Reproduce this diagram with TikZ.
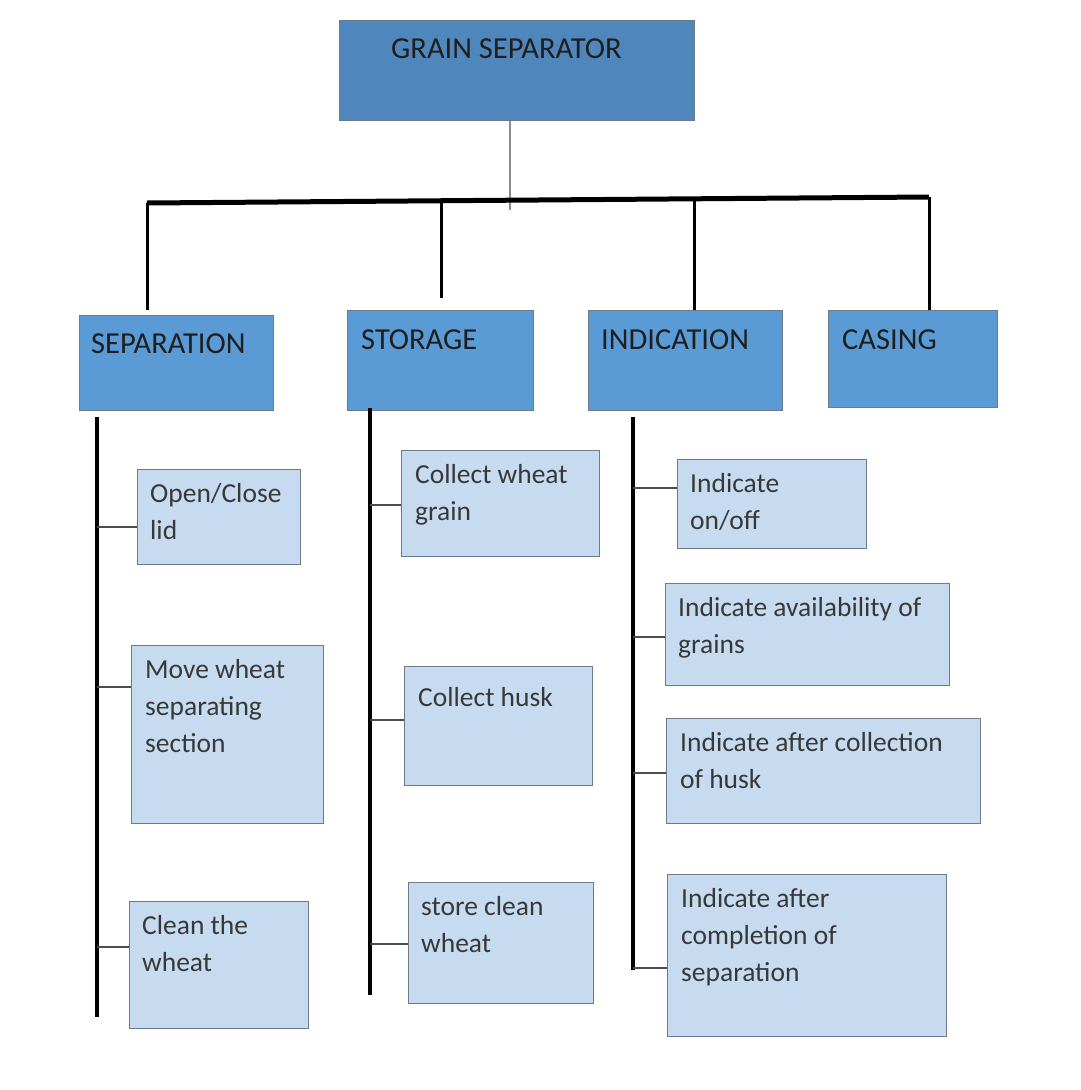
\documentclass[tikz,border=0pt]{standalone}
\usepackage{fontspec}
\setmainfont{Carlito}
\usetikzlibrary{calc}
\definecolor{topblue}{HTML}{4F87BD}
\definecolor{midblue}{HTML}{5B9BD5}
\definecolor{paleblue}{HTML}{C6DBF0}
\definecolor{edge}{HTML}{6E7A87}
\tikzset{
  head/.style={draw=edge, line width=1pt, fill=midblue, anchor=north west, inner sep=0pt},
  leaf/.style={draw=edge, line width=1pt, fill=paleblue, anchor=north west, inner sep=0pt},
  headtxt/.style={anchor=north west, inner sep=0pt, align=left, text=black!88,
    font=\fontsize{30.5}{38}\selectfont, execute at begin node=\strut},
  leaftxt/.style={anchor=north west, inner sep=0pt, align=left, text=black!78,
    font=\fontsize{27.5}{37}\selectfont, execute at begin node=\strut},
  bus/.style={draw=black, line width=5pt},
  stem/.style={draw=black, line width=3pt},
  spine/.style={draw=black, line width=3.5pt},
  twig/.style={draw=black!70, line width=1.5pt},
}

\begin{document}
\begin{tikzpicture}[x=1pt,y=-1pt]
\fill[white] (0,0) rectangle (1080,1090);
\useasboundingbox (0,0) rectangle (1080,1090);
% top box
\node[head, fill=topblue, minimum width=355pt, minimum height=100pt] (grain) at (339,20) {};
\node[headtxt] (grain-t) at ($(grain.north west)+(52,12)$) {GRAIN SEPARATOR};
% second row
\node[head, minimum width=194pt, minimum height=95pt]  (sep)  at (79,315)  {};
\node[head, minimum width=186pt, minimum height=100pt] (stor) at (347,310) {};
\node[head, minimum width=194pt, minimum height=100pt] (ind)  at (588,310) {};
\node[head, minimum width=169pt, minimum height=97pt]  (cas)  at (828,310) {};
\node[headtxt] (sep-t)  at ($(sep.north west)+(12,12)$)  {SEPARATION};
\node[headtxt] (stor-t) at ($(stor.north west)+(14,13)$) {STORAGE};
\node[headtxt] (ind-t)  at ($(ind.north west)+(13,13)$)  {INDICATION};
\node[headtxt] (cas-t)  at ($(cas.north west)+(14,13)$)  {CASING};
% bus + stems
\coordinate (g)  at (510,210);
\coordinate (b1) at (147,203);
\coordinate (b2) at (441,201);
\coordinate (b3) at (694,199);
\coordinate (b4) at (929,197);
\draw[draw=black!45, line width=1.2pt] (g |- grain.south) -- (g);
\draw[bus] (b1) -- (b4);
\draw[stem] (b1) -- ([yshift=5pt]b1 |- sep.north);
\draw[stem] (b2) -- ([yshift=12pt]b2 |- stor.north);
\draw[stem] (b3) -- (b3 |- ind.north);
\draw[stem] (b4) -- (b4 |- cas.north);
% separation column
\node[leaf, minimum width=163pt, minimum height=95pt]  (lid)   at (137,469) {};
\node[leaf, minimum width=192pt, minimum height=178pt] (move)  at (131,645) {};
\node[leaf, minimum width=179pt, minimum height=127pt] (clean) at (129,901) {};
\node[leaftxt] (lid-t)   at ($(lid.north west)+(13,14)$)   {Open/Close\\lid};
\node[leaftxt] (move-t)  at ($(move.north west)+(14,14)$)  {Move wheat\\separating\\section};
\node[leaftxt] (clean-t) at ($(clean.north west)+(13,14)$) {Clean the\\wheat};
\coordinate (sa) at (97,417);
\coordinate (sz) at (97,1017);
\draw[spine] (sa) -- (sz);
\draw[twig] (sa |- 0,527) -- (lid.west |- 0,527);
\draw[twig] (sa |- 0,687) -- (move.west |- 0,687);
\draw[twig] (sa |- 0,947) -- (clean.west |- 0,947);
% storage column
\node[leaf, minimum width=198pt, minimum height=106pt] (grainc) at (401,450) {};
\node[leaf, minimum width=188pt, minimum height=119pt] (husk)   at (404,666) {};
\node[leaf, minimum width=185pt, minimum height=121pt] (store)  at (408,882) {};
\node[leaftxt] (grainc-t) at ($(grainc.north west)+(14,14)$) {Collect wheat\\grain};
\node[leaftxt] (husk-t)   at ($(husk.north west)+(14,14)$)   {Collect husk};
\node[leaftxt] (store-t)  at ($(store.north west)+(13,14)$)  {store clean\\wheat};
\coordinate (ta) at (370,408);
\coordinate (tz) at (370,995);
\draw[spine] (ta) -- (tz);
\draw[twig] (ta |- 0,505) -- (grainc.west |- 0,505);
\draw[twig] (ta |- 0,720) -- (husk.west |- 0,720);
\draw[twig] (ta |- 0,944) -- (store.west |- 0,944);
% indication column
\node[leaf, minimum width=189pt, minimum height=89pt]  (onoff)  at (677,459) {};
\node[leaf, minimum width=284pt, minimum height=102pt] (avail)  at (665,583) {};
\node[leaf, minimum width=314pt, minimum height=105pt] (afterh) at (666,718) {};
\node[leaf, minimum width=279pt, minimum height=162pt] (afters) at (667,874) {};
\node[leaftxt] (onoff-t)  at ($(onoff.north west)+(13,14)$)  {Indicate\\on/off};
\node[leaftxt] (avail-t)  at ($(avail.north west)+(13,14)$)  {Indicate availability of\\grains};
\node[leaftxt] (afterh-t) at ($(afterh.north west)+(14,14)$) {Indicate after collection\\of husk};
\node[leaftxt] (afters-t) at ($(afters.north west)+(14,14)$) {Indicate after\\completion of\\separation};
\coordinate (ia) at (633,417);
\coordinate (iz) at (633,970);
\draw[spine] (ia) -- (iz);
\draw[twig] (ia |- 0,488) -- (onoff.west |- 0,488);
\draw[twig] (ia |- 0,637) -- (avail.west |- 0,637);
\draw[twig] (ia |- 0,773) -- (afterh.west |- 0,773);
\draw[twig] (ia |- 0,968) -- (afters.west |- 0,968);
\end{tikzpicture}
\end{document}
